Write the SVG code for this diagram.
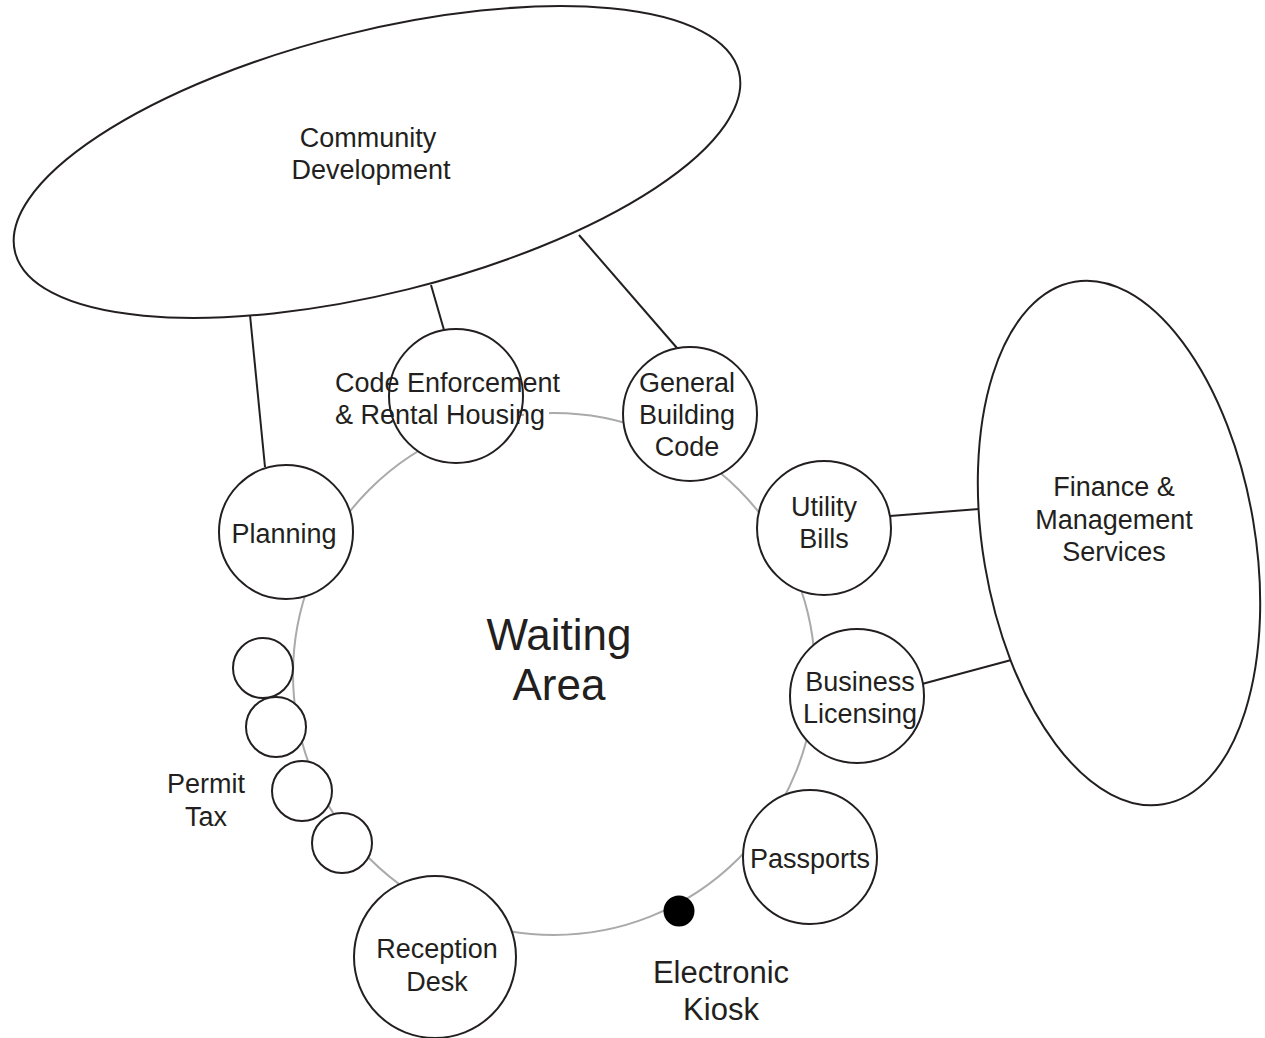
<svg xmlns="http://www.w3.org/2000/svg" width="1265" height="1038" viewBox="0 0 1265 1038">
<style>
text{font-family:"Liberation Sans",Arial,sans-serif;font-size:27px;fill:#231f20;text-anchor:middle}
.n{fill:#fff;stroke:#231f20;stroke-width:2}
.c{stroke:#231f20;stroke-width:2;fill:none}
.ring{fill:none;stroke:#aaaaaa;stroke-width:2}
</style>
<rect width="1265" height="1038" fill="#fff"/>
<g id="waiting-area">
<circle class="ring" cx="554" cy="674" r="261"/>
<text x="559" y="650" style="font-size:44px">Waiting</text>
<text x="559" y="700" style="font-size:44px">Area</text>
</g>
<g id="connectors">
<line class="c" x1="250" y1="315" x2="265" y2="467"/>
<line class="c" x1="431" y1="285" x2="444" y2="330"/>
<line class="c" x1="579" y1="235" x2="677" y2="348"/>
<line class="c" x1="890" y1="516" x2="979" y2="509"/>
<line class="c" x1="922" y1="684" x2="1015" y2="659"/>
</g>
<g id="community-development">
<ellipse class="n" cx="377" cy="162" rx="373" ry="131" transform="rotate(-14 377 162)"/>
<text x="368" y="147">Community</text>
<text x="371" y="179">Development</text>
</g>
<g id="finance">
<ellipse class="n" cx="1119" cy="543" rx="136" ry="265" transform="rotate(-9.6 1119 543)"/>
<text x="1114" y="496">Finance &amp;</text>
<text x="1114" y="529">Management</text>
<text x="1114" y="561">Services</text>
</g>
<g id="planning">
<circle class="n" cx="286" cy="532" r="67"/>
<text x="284" y="543">Planning</text>
</g>
<g id="code-enforcement">
<circle class="n" cx="456" cy="396" r="67"/>
<rect x="524" y="403" width="25" height="20" fill="#fff"/>
<text x="335" y="392" style="text-anchor:start">Code Enforcement</text>
<text x="335" y="424" style="text-anchor:start">&amp; Rental Housing</text>
</g>
<g id="general-building-code">
<circle class="n" cx="690" cy="414" r="67"/>
<text x="687" y="392">General</text>
<text x="687" y="424">Building</text>
<text x="687" y="456">Code</text>
</g>
<g id="utility-bills">
<circle class="n" cx="824" cy="528" r="67"/>
<text x="824" y="516">Utility</text>
<text x="824" y="548">Bills</text>
</g>
<g id="business-licensing">
<circle class="n" cx="857" cy="696" r="67"/>
<text x="860" y="691">Business</text>
<text x="860" y="723">Licensing</text>
</g>
<g id="passports">
<circle class="n" cx="810" cy="857" r="67"/>
<text x="810" y="868">Passports</text>
</g>
<g id="reception-desk">
<circle class="n" cx="435" cy="957" r="81"/>
<text x="437" y="958">Reception</text>
<text x="437" y="991">Desk</text>
</g>
<g id="permit-tax">
<circle class="n" cx="263" cy="668" r="30"/>
<circle class="n" cx="276" cy="727" r="30"/>
<circle class="n" cx="302" cy="791" r="30"/>
<circle class="n" cx="342" cy="843" r="30"/>
<text x="206" y="793">Permit</text>
<text x="206" y="826">Tax</text>
</g>
<g id="electronic-kiosk">
<circle cx="679" cy="911" r="15.5" fill="#000"/>
<text x="721" y="983" style="font-size:31px">Electronic</text>
<text x="721" y="1020" style="font-size:31px">Kiosk</text>
</g>
</svg>
